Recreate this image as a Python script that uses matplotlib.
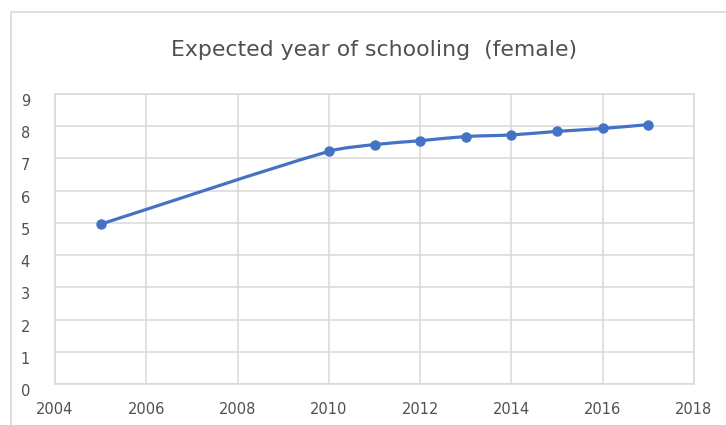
import matplotlib
matplotlib.use("Agg")
import matplotlib.pyplot as plt
from matplotlib.path import Path
from matplotlib.patches import PathPatch, Rectangle
import numpy as np

years = [2005, 2010, 2011, 2012, 2013, 2014, 2015, 2016, 2017]
values = [4.96, 7.22, 7.43, 7.55, 7.68, 7.73, 7.84, 7.93, 8.05]
x_ticks = [2004, 2006, 2008, 2010, 2012, 2014, 2016, 2018]
y_ticks = [0, 1, 2, 3, 4, 5, 6, 7, 8, 9]
title = "Expected year of schooling  (female)"

W, H = 726, 425
plt.rcParams['font.family'] = ['DejaVu Sans']
fig = plt.figure(figsize=(W / 100, H / 100), dpi=100)

# chart border (Excel style)
fig.add_artist(Rectangle((11 / W, -0.1), 1.2, 1 - 12 / H + 0.1, transform=fig.transFigure,
                         fill=False, edgecolor='#d9d9d9', linewidth=1.2))

left, right, top, bottom = 55, 694, 94, 384
ax = fig.add_axes([left / W, 1 - bottom / H, (right - left) / W, (bottom - top) / H])
ax.set_xlim(2004, 2018)
ax.set_ylim(0, 9)
ax.set_xticks(x_ticks)
ax.set_yticks(y_ticks)
ax.grid(True, color='#d9d9d9', linewidth=1.1)
ax.set_axisbelow(True)
for s in ax.spines.values():
    s.set_color('#d9d9d9')
    s.set_linewidth(1.1)
ax.tick_params(length=0, colors='#505050', labelsize=10.5)
ax.tick_params(axis='x', pad=13)
ax.tick_params(axis='y', pad=18)
for lab in ax.get_yticklabels():
    lab.set_verticalalignment('top')

# smoothed line (Catmull-Rom style, tangent lengths scaled per segment in pixel space)
fig.canvas.draw()
pts = ax.transData.transform(np.column_stack([years, values]))
n = len(pts)
verts_px = [pts[0]]
for i in range(n - 1):
    p1, p2 = pts[i], pts[i + 1]
    d1 = pts[min(i + 1, n - 1)] - pts[max(i - 1, 0)]
    d2 = pts[min(i + 2, n - 1)] - pts[i]
    L = np.linalg.norm(p2 - p1)
    c1 = p1 + d1 / np.linalg.norm(d1) * L * 0.3
    c2 = p2 - d2 / np.linalg.norm(d2) * L * 0.3
    verts_px += [c1, c2, p2]
verts = ax.transData.inverted().transform(np.array(verts_px))
codes = [Path.MOVETO] + [Path.CURVE4] * (3 * (n - 1))
ax.add_patch(PathPatch(Path(verts, codes), facecolor='none', edgecolor='#4472C4',
                       linewidth=2.3, capstyle='round', joinstyle='round', zorder=3))
ax.plot(years, values, linestyle='none', marker='o', markersize=6.5, color='#4472C4', zorder=4)

fig.text(374 / W, 1 - 50 / H, title, ha='center', va='center', fontsize=15.8, color='#505050')

fig.savefig("out.png", dpi=100)
